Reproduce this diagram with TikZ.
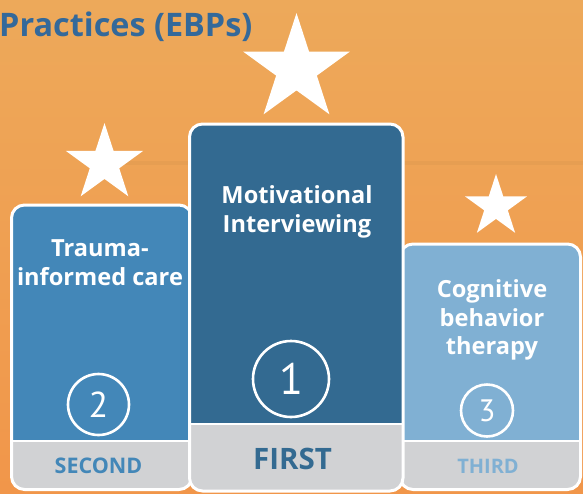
\documentclass[tikz,border=0pt]{standalone}
\usepackage{fontspec}
\setmainfont{Open Sans}
\newfontfamily\digitfont{PT Sans}
\usetikzlibrary{shapes.geometric}
\definecolor{bgtop}{HTML}{EDA95A}
\definecolor{bgbot}{HTML}{F1964A}
\definecolor{stripe}{HTML}{E69E52}
\definecolor{dkblue}{HTML}{336A91}
\definecolor{mdblue}{HTML}{4387B8}
\definecolor{ltblue}{HTML}{80B0D3}
\definecolor{grayband}{HTML}{D1D2D4}
\definecolor{titleblue}{HTML}{34699A}
\tikzset{
  starshape/.style={star, star points=5, star point ratio=2.618, fill=white, draw=none, inner sep=0pt},
  boxtext/.style={text=white, align=center, font=\bfseries\fontsize{23.6}{28.8}\selectfont},
  numcircle/.style={circle, draw=white, line width=2.6pt, inner sep=0pt, text=white},
  border/.style={draw=white, line width=3pt, rounded corners=13pt}
}
\begin{document}
\begin{tikzpicture}[x=1pt,y=-1pt]
\useasboundingbox (0,0) rectangle (583,493);
\shade[top color=bgtop, bottom color=bgbot] (0,0) rectangle (583,493);
\draw[stripe, line width=4pt] (120,163) -- (583,163);

% title
\node[anchor=base west, inner sep=0pt, text=titleblue, font=\bfseries\fontsize{32.4}{32.4}\selectfont] (title) at (-1,36) {Practices (EBPs)};

% stars
\node[starshape, minimum size=112pt] (star1) at (296.5,69) {};
\node[starshape, minimum size=81pt] (star2) at (104.5,163.5) {};
\node[starshape, minimum size=65pt] (star3) at (496,206.5) {};

% left box (second)
\begin{scope}
\clip[rounded corners=13pt] (11.5,205) rectangle (192,489.5);
\fill[mdblue] (0,200) rectangle (200,441);
\fill[grayband] (0,441) rectangle (200,495);
\end{scope}
\draw[white, line width=2.5pt] (11.5,441) -- (192,441);
\draw[border] (11.5,205) rectangle (192,489.5);

% right box (third)
\begin{scope}
\clip[rounded corners=13pt] (400,244) rectangle (580.5,489.5);
\fill[ltblue] (395,240) rectangle (590,441);
\fill[grayband] (395,441) rectangle (590,495);
\end{scope}
\draw[white, line width=2.5pt] (400,441) -- (580.5,441);
\draw[border] (400,244) rectangle (580.5,489.5);

% middle box (first)
\begin{scope}
\clip[rounded corners=13pt] (189.5,124) rectangle (403,491);
\fill[dkblue] (185,120) rectangle (410,424);
\fill[grayband] (185,424) rectangle (410,495);
\end{scope}
\draw[white, line width=2.5pt] (189.5,424) -- (403,424);
\draw[border] (189.5,124) rectangle (403,491);

% box texts
\node[boxtext] (t2) at (100,263) {Trauma-\\informed care};
\node[boxtext] (t1) at (297,211.5) {Motivational\\Interviewing};
\node[boxtext] (t3) at (492,320) {Cognitive\\behavior\\therapy};

% number circles
\node[numcircle, minimum size=76pt, font=\digitfont\fontsize{44}{44}\selectfont] (n1) at (291,379) {1};
\node[numcircle, minimum size=61pt, font=\digitfont\fontsize{36}{36}\selectfont] (n2) at (98.5,404.5) {2};
\node[numcircle, minimum size=52pt, font=\digitfont\fontsize{31}{31}\selectfont] (n3) at (487,410.5) {3};

% rank labels
\node[anchor=base, inner sep=0pt, text=mdblue, font=\bfseries\fontsize{21.5}{21.5}\selectfont] (r2) at (98.5,473) {SECOND};
\node[anchor=base, inner sep=0pt, text=dkblue, font=\bfseries\fontsize{29.5}{29.5}\selectfont] (r1) at (292.5,469) {FIRST};
\node[anchor=base, inner sep=0pt, text=ltblue, font=\bfseries\fontsize{20}{20}\selectfont] (r3) at (488,473) {THIRD};
\end{tikzpicture}
\end{document}
